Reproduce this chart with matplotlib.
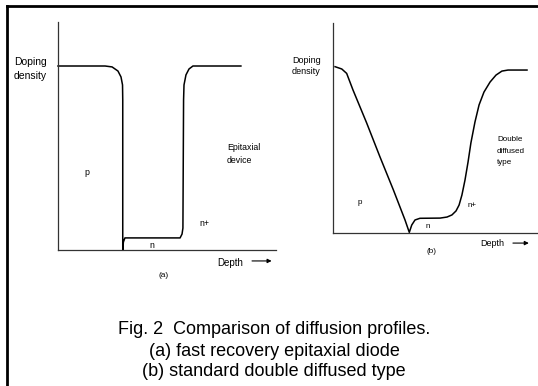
import matplotlib
matplotlib.use("Agg")
import matplotlib.pyplot as plt
from matplotlib.lines import Line2D

plt.rcParams['font.family'] = ['Liberation Sans', 'DejaVu Sans']

# ---- Data (arbitrary units: depth 0-100, doping density 0-100) ----
# (a) epitaxial device profile
depth_a = [0, 21.6, 24.8, 27.5, 28.9, 29.6, 29.7, 29.7, 30.0, 30.7, 56.0, 56.9, 57.3,
           57.6, 57.8, 58.7, 60.1, 61.9, 83.9]
dens_a = [80.7, 80.7, 80.3, 78.5, 75.9, 72.4, 65.8, 0.0, 3.5, 5.3, 5.3, 7.0, 9.6,
          65.8, 72.4, 76.8, 79.4, 80.7, 80.7]

# (b) standard double diffused profile
depth_b = [1.0, 4.3, 6.7, 9.8, 16.5, 23.0, 29.6, 35.3, 37.4, 38.6, 40.2, 42.6, 52.5,
           55.9, 58.3, 60.3, 61.8, 63.2, 64.7, 66.2, 67.6, 69.6, 71.6, 74.0, 77.0,
           79.9, 82.8, 85.8, 95.1]
dens_b = [79.2, 78.1, 76.0, 68.1, 52.4, 36.3, 20.5, 6.2, 0.3, 3.8, 6.2, 7.0, 7.1,
          7.6, 8.6, 10.5, 13.3, 18.1, 25.2, 33.8, 42.9, 52.9, 61.0, 67.1, 71.9,
          75.2, 77.1, 77.6, 77.6]

ylabel_text = "Doping\ndensity"
xlabel_text = "Depth"
labels_a = ["p", "n", "n+", "Epitaxial\ndevice"]
labels_b = ["p", "n", "n+", "Double\ndiffused\ntype"]
caption = ["Fig. 2  Comparison of diffusion profiles.",
           "(a) fast recovery epitaxial diode",
           "(b) standard double diffused type"]

W, H = 538, 386
fig = plt.figure(figsize=(W / 100, H / 100), dpi=100)


def px_axes(left, right, top, bottom):
    return fig.add_axes([left / W, (H - bottom) / H, (right - left) / W, (bottom - top) / H])


def style(ax):
    ax.set_xlim(0, 100)
    ax.set_ylim(0, 100)
    for s in ['top', 'right']:
        ax.spines[s].set_visible(False)
    for s in ['left', 'bottom']:
        ax.spines[s].set_color('#333333')
        ax.spines[s].set_linewidth(0.9)
    ax.set_xticks([])
    ax.set_yticks([])
    ax.patch.set_alpha(0)


# Panel (a)
ax1 = px_axes(58, 276, 22, 250)
style(ax1)
ax1.plot(depth_a, dens_a, color='black', lw=1.1, clip_on=False)
ax1.text(-20.2, 79.4, ylabel_text, fontsize=7.5, ha='left', va='center', linespacing=1.4)
ax1.text(11.9, 33.8, labels_a[0], fontsize=6.3, ha='left', va='center')
ax1.text(43.1, 1.8, labels_a[1], fontsize=6.3, ha='center', va='center')
ax1.text(64.7, 11.8, labels_a[2], fontsize=6.3, ha='left', va='center')
ax1.text(77.5, 42.1, labels_a[3], fontsize=6.3, ha='left', va='center', linespacing=1.7)
ax1.text(72.9, -5.7, xlabel_text, fontsize=7, ha='left', va='center', clip_on=False)
ax1.annotate('', xy=(98.0, -4.8), xytext=(89.0, -4.8), annotation_clip=False,
             arrowprops=dict(arrowstyle='-|>', color='black', lw=0.8,
                             mutation_scale=6, shrinkA=0, shrinkB=0))
ax1.text(48.2, -11.4, "(a)", fontsize=6, ha='center', va='center')

# Panel (b)
ax2 = px_axes(333, 537, 23, 233)
style(ax2)
ax2.plot(depth_b, dens_b, color='black', lw=1.1, clip_on=False)
ax2.text(-20.1, 79.5, ylabel_text, fontsize=6.5, ha='left', va='center', linespacing=1.4)
ax2.text(11.8, 14.3, labels_b[0], fontsize=5.8, ha='left', va='center')
ax2.text(46.6, 2.9, labels_b[1], fontsize=5.8, ha='center', va='center')
ax2.text(65.7, 13.3, labels_b[2], fontsize=5.8, ha='left', va='center')
ax2.text(80.4, 39.0, labels_b[3], fontsize=5.8, ha='left', va='center', linespacing=1.95)
ax2.text(72.1, -5.2, xlabel_text, fontsize=6.5, ha='left', va='center', clip_on=False)
ax2.annotate('', xy=(96.0, -4.8), xytext=(88.2, -4.8), annotation_clip=False,
             arrowprops=dict(arrowstyle='-|>', color='black', lw=0.8,
                             mutation_scale=6, shrinkA=0, shrinkB=0))
ax2.text(48.5, -9.0, "(b)", fontsize=5.8, ha='center', va='center')

# Caption
for i, line in enumerate(caption):
    fig.text(274 / W, (H - (330 + 21 * i)) / H, line, fontsize=13, ha='center', va='center')

# Frame lines (top and left)
fig.add_artist(Line2D([7 / W, 7 / W], [0, (H - 6) / H], transform=fig.transFigure,
                      color='black', lw=2.0, solid_capstyle='projecting'))
fig.add_artist(Line2D([7 / W, 1], [(H - 6) / H, (H - 6) / H], transform=fig.transFigure,
                      color='black', lw=2.0, solid_capstyle='projecting'))

fig.savefig('out.png', dpi=100)
